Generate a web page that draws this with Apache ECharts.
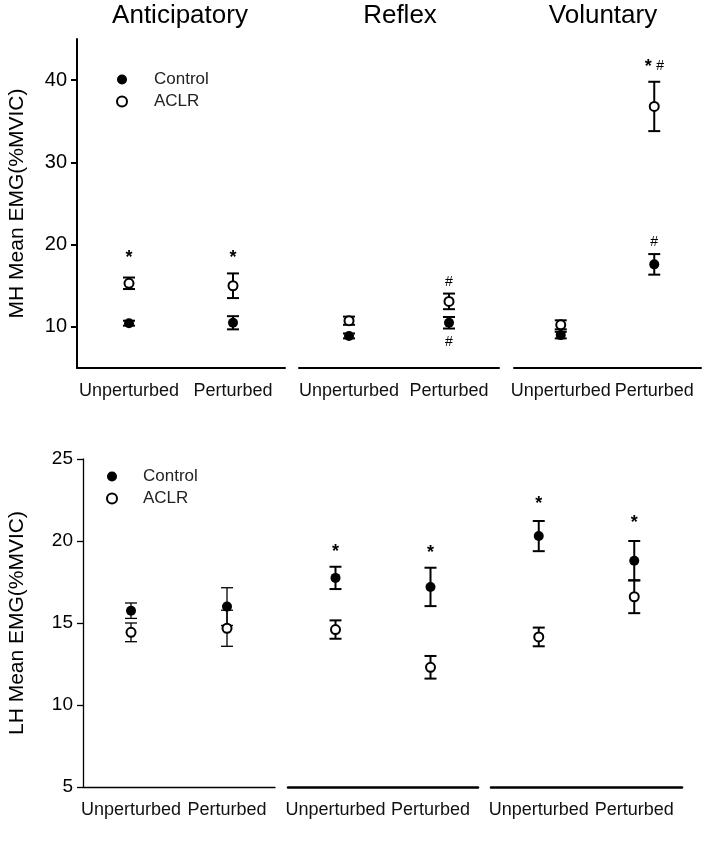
<!DOCTYPE html>
<html><head><meta charset="utf-8">
<script src="https://cdn.jsdelivr.net/npm/echarts@6/dist/echarts.min.js"></script>
<style>html,body{margin:0;padding:0;background:#fff}#c{width:707px;height:845px}</style>
</head><body><div id="c"></div>
<script>
// ---------- data ----------
const conditions = ['Anticipatory', 'Reflex', 'Voluntary'];
const xCategories = ['Unperturbed', 'Perturbed'];
const groups = ['Control', 'ACLR'];
const mhTicks = [10, 20, 30, 40];
const lhTicks = [5, 10, 15, 20, 25];

// MH panel (rows: condition, cols: Unperturbed, Perturbed)
const mhControlMean = [[10.45, 10.5], [8.9, 10.5], [9.0, 17.6]];
const mhControlSE   = [[0.3, 0.8], [0.3, 0.7], [0.4, 1.25]];
const mhAclrMean    = [[15.3, 15.0], [10.75, 13.1], [10.25, 36.8]];
const mhAclrSE      = [[0.7, 1.5], [0.5, 0.95], [0.55, 3.0]];

// LH panel
const lhControlMean = [[15.75, 16.0], [17.75, 17.2], [20.3, 18.8]];
const lhControlSE   = [[0.47, 1.15], [0.68, 1.17], [0.92, 1.2]];
const lhAclrMean    = [[14.43, 14.68], [14.6, 12.3], [14.15, 16.6]];
const lhAclrSE      = [[0.57, 1.1], [0.56, 0.69], [0.57, 1.0]];

// significance marks
const mhAnnotText      = ['*', '*', '#', '#', '*', '#', '#'];
const mhAnnotCondition = [0, 0, 1, 1, 2, 2, 2];
const mhAnnotCategory  = [0, 1, 1, 1, 1, 1, 1];
const mhAnnotValue     = [18.9, 18.9, 15.4, 8.2, 42.1, 41.65, 20.25];
const lhAnnotText      = ['*', '*', '*', '*'];
const lhAnnotCondition = [1, 1, 2, 2];
const lhAnnotCategory  = [0, 1, 0, 1];
const lhAnnotValue     = [19.6, 19.55, 22.5, 21.4];

// ---------- layout / style ----------
const FONT = '"Liberation Sans", Arial, Helvetica, sans-serif';
const panels = [
  { name: 'MH Mean EMG(%MVIC)', top: 39, height: 329, min: 5, max: 45, ticks: mhTicks,
    grids: [[77, 208], [299, 200], [514, 187]], xLineWidth: [2, 2, 2], barWidth: [2, 2, 2],
    yLineWidth: 2, nameGap: 49, labelSize: 20,
    control: [mhControlMean, mhControlSE], aclr: [mhAclrMean, mhAclrSE],
    annot: [mhAnnotText, mhAnnotCondition, mhAnnotCategory, mhAnnotValue],
    legend: { left: 116, top: 71 } },
  { name: 'LH Mean EMG(%MVIC)', top: 459, height: 328, min: 5, max: 25, ticks: lhTicks,
    grids: [[83, 192], [288, 190], [491, 191]], xLineWidth: [1.3, 2.5, 2.5], barWidth: [1.3, 2, 2],
    yLineWidth: 1.3, nameGap: 55, labelSize: 19,
    control: [lhControlMean, lhControlSE], aclr: [lhAclrMean, lhAclrSE],
    annot: [lhAnnotText, lhAnnotCondition, lhAnnotCategory, lhAnnotValue],
    legend: { left: 106, top: 468 } }
];
// x-offsets for annotations sharing one category (style only)
const annotShift = { 'MH-4': -6, 'MH-5': 6 };

const option = { animation: false, backgroundColor: '#fff', grid: [], xAxis: [], yAxis: [], series: [], legend: [], graphic: [] };

function errRenderer(lw) {
  return function (params, api) {
    const x = api.value(0), lo = api.value(1), hi = api.value(2);
    const a = api.coord([x, hi]), b = api.coord([x, lo]);
    const hw = 6;
    const st = { stroke: '#000', lineWidth: lw };
    return { type: 'group', children: [
      { type: 'line', shape: { x1: a[0], y1: a[1], x2: b[0], y2: b[1] }, style: st },
      { type: 'line', shape: { x1: a[0] - hw, y1: a[1], x2: a[0] + hw, y2: a[1] }, style: st },
      { type: 'line', shape: { x1: b[0] - hw, y1: b[1], x2: b[0] + hw, y2: b[1] }, style: st }
    ]};
  };
}

panels.forEach((p, pi) => {
  const key = pi === 0 ? 'MH' : 'LH';
  p.grids.forEach((g, ci) => {
    const gi = option.grid.length;
    option.grid.push({ left: g[0], width: g[1], top: p.top, height: p.height });
    option.xAxis.push({
      type: 'category', gridIndex: gi, data: xCategories, boundaryGap: true,
      axisLine: { lineStyle: { color: '#000', width: p.xLineWidth[ci] } },
      axisTick: { alignWithLabel: true, length: 5, lineStyle: { color: '#000', width: p.xLineWidth[ci] } },
      axisLabel: { interval: 0, color: '#111', fontSize: 18, fontFamily: FONT, margin: 14 },
      splitLine: { show: false }
    });
    const y = {
      type: 'value', gridIndex: gi, min: p.min, max: p.max, show: ci === 0,
      axisLine: { show: true, lineStyle: { color: '#000', width: p.yLineWidth } },
      axisTick: { show: true, length: 6, customValues: p.ticks, lineStyle: { color: '#000', width: p.yLineWidth } },
      axisLabel: { customValues: p.ticks, color: '#000', fontSize: p.labelSize, fontFamily: FONT, margin: 10 },
      splitLine: { show: false }
    };
    if (ci === 0) {
      y.name = p.name; y.nameLocation = 'middle'; y.nameGap = p.nameGap;
      y.nameTextStyle = { color: '#000', fontSize: 21, fontFamily: FONT };
    }
    option.yAxis.push(y);

    [p.control, p.aclr].forEach((src, k) => {
      const mean = src[0][ci], se = src[1][ci];
      option.series.push({
        type: 'custom', name: groups[k], xAxisIndex: gi, yAxisIndex: gi, z: 2,
        renderItem: errRenderer(p.barWidth[ci]),
        encode: { x: 0, y: [1, 2] },
        data: xCategories.map((c, j) => [j, mean[j] - se[j], mean[j] + se[j]])
      });
    });
    [p.control, p.aclr].forEach((src, k) => {
      const mean = src[0][ci];
      option.series.push({
        type: 'scatter', name: groups[k], xAxisIndex: gi, yAxisIndex: gi, z: 3,
        symbol: 'circle', symbolSize: k === 0 ? 10 : 9,
        itemStyle: k === 0 ? { color: '#000', opacity: 1 } : { color: '#fff', borderColor: '#000', borderWidth: 2, opacity: 1 },
        emphasis: { disabled: true },
        data: xCategories.map((c, j) => [j, mean[j]])
      });
    });
    const [txt, cond, cat, val] = p.annot;
    const idx = txt.map((t, i) => i).filter(i => cond[i] === ci);
    if (idx.length) {
      option.series.push({
        type: 'custom', xAxisIndex: gi, yAxisIndex: gi, z: 4, silent: true,
        encode: { x: 0, y: 1 },
        data: idx.map(i => [cat[i], val[i], i]),
        renderItem: function (params, api) {
          const i = api.value(2);
          const pt = api.coord([api.value(0), api.value(1)]);
          const t = txt[i];
          const fs = t === '*' ? 18 : 14;
          const dx = annotShift[key + '-' + i] || 0;
          const dy = t === '*' ? fs * 0.25 : 0;
          return { type: 'text', x: pt[0] + dx, y: pt[1] + dy,
            style: { text: t, fill: '#000', font: (t === '*' ? 'bold ' : '') + fs + 'px ' + FONT, textAlign: 'center', textVerticalAlign: 'middle' } };
        }
      });
    }
  });
  option.legend.push({
    orient: 'vertical', left: p.legend.left, top: p.legend.top, padding: 0,
    itemWidth: 54 - 2 * pi, itemHeight: 10, itemGap: 5,
    textStyle: { color: '#222', fontSize: 17, fontFamily: FONT, lineHeight: 17 },
    data: [
      { name: 'Control', icon: 'circle', itemStyle: { color: '#000', borderWidth: 0 } },
      { name: 'ACLR', icon: 'circle', itemStyle: { color: '#fff', borderColor: '#000', borderWidth: 2 } }
    ]
  });
});

const titleX = [180, 400, 603];
conditions.forEach((c, i) => {
  option.graphic.push({ type: 'text', x: titleX[i], y: 16,
    style: { text: c, fill: '#000', font: '26px ' + FONT, textAlign: 'center', textVerticalAlign: 'middle' } });
});

const chart = echarts.init(document.getElementById('c'));
chart.setOption(option);
</script></body></html>
